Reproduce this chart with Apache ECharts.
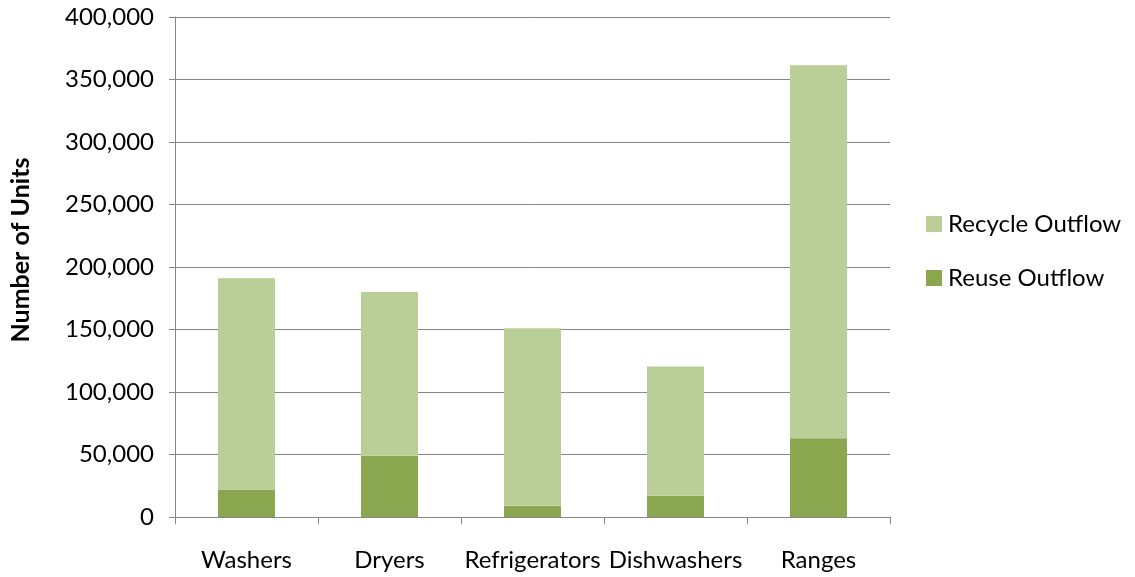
<!DOCTYPE html>
<html>
<head>
<meta charset="utf-8">
<script src="https://cdn.jsdelivr.net/npm/echarts@6/dist/echarts.min.js"></script>
<style>html,body{margin:0;padding:0;background:#fff}#c{width:1135px;height:577px}</style>
</head>
<body>
<div id="c"></div>
<script>
const categories = ['Washers', 'Dryers', 'Refrigerators', 'Dishwashers', 'Ranges'];
const reuseOutflow = [22000, 49000, 9000, 17000, 63000];
const recycleOutflow = [169000, 131000, 142000, 103500, 298500];
const yTicks = [0, 50000, 100000, 150000, 200000, 250000, 300000, 350000, 400000];

const FONT = 'Lato';
const chart = echarts.init(document.getElementById('c'), null, {renderer: 'canvas'});
chart.setOption({
  animation: false,
  backgroundColor: '#ffffff',
  textStyle: {fontFamily: FONT},
  grid: {left: 175, right: 245, top: 17, bottom: 60, containLabel: false},
  legend: {
    orient: 'vertical',
    left: 921, top: 207,
    itemWidth: 16, itemHeight: 16, itemGap: 30,
    icon: 'rect',
    data: ['Recycle Outflow', 'Reuse Outflow'],
    textStyle: {fontFamily: FONT, fontSize: 24, color: '#000', padding: [0, 0, 0, 1]}
  },
  xAxis: {
    type: 'category',
    data: categories,
    axisLine: {lineStyle: {color: '#868686', width: 1}},
    axisTick: {show: true, length: 7, lineStyle: {color: '#868686'}},
    axisLabel: {fontFamily: FONT, fontSize: 24, color: '#000', margin: 31, interval: 0}
  },
  yAxis: {
    type: 'value',
    min: yTicks[0], max: yTicks[yTicks.length - 1], interval: 50000,
    name: 'Number of Units',
    nameLocation: 'middle',
    nameGap: 142,
    nameTextStyle: {fontFamily: FONT, fontSize: 25, fontWeight: 'bold', color: '#000', padding: [0, 0, 0, 34]},
    axisLine: {show: true, lineStyle: {color: '#868686'}},
    axisTick: {show: true, length: 6, lineStyle: {color: '#868686'}},
    splitLine: {lineStyle: {color: '#868686', width: 1}},
    axisLabel: {
      fontFamily: FONT, fontSize: 24, color: '#000', margin: 21,
      formatter: v => v.toLocaleString('en-US')
    }
  },
  series: [
    {
      name: 'Reuse Outflow', type: 'bar', stack: 'total',
      data: reuseOutflow, barWidth: 57,
      itemStyle: {color: '#8aa64e'}
    },
    {
      name: 'Recycle Outflow', type: 'bar', stack: 'total',
      data: recycleOutflow, barWidth: 57,
      itemStyle: {color: '#bace97'}
    }
  ]
});
</script>
</body>
</html>
